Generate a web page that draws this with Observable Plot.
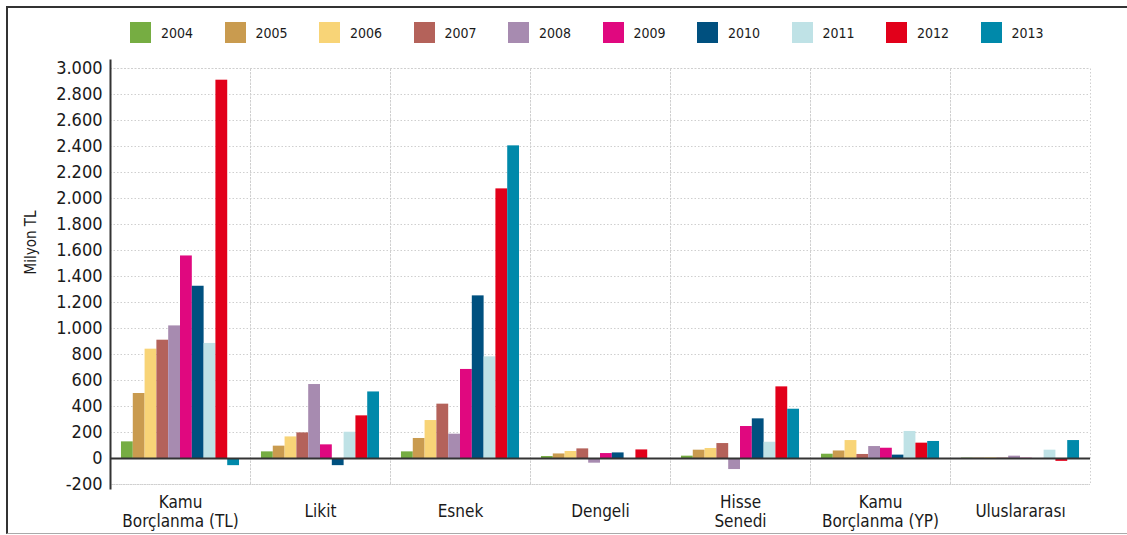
<!DOCTYPE html>
<html>
<head>
<meta charset="utf-8">
<script src="https://cdn.jsdelivr.net/npm/d3@7"></script>
<script src="https://cdn.jsdelivr.net/npm/@observablehq/plot@0.6"></script>
<style>
  body { margin: 0; background: #fff; }
  #wrap { position: relative; width: 1127px; height: 535px; overflow: hidden; background: #fff; }
  #border { position: absolute; left: 6px; top: 6px; width: 1140px; height: 525px;
            border-top: 2px solid #333; border-left: 2px solid #333; border-bottom: 1px solid #aaa; }
  #chart { position: absolute; left: 0; top: 0; }
  #legend { position: absolute; left: 130px; top: 22px; }
  #legend .yl-swatches { margin: 0 !important; min-height: 0 !important; display: flex !important;
            font-family: "DejaVu Sans Condensed", "DejaVu Sans", sans-serif !important;
            font-stretch: condensed; font-size: 14px !important; color: #1a1a1a !important; }
  #legend .yl-swatch { width: 94.5px !important; margin: 0 !important; display: inline-flex !important; align-items: center; }
  #legend .yl-swatch > svg { margin-right: 10px !important; }
</style>
</head>
<body>
<div id="wrap">
  <div id="border"></div>
  <div id="chart"></div>
  <div id="legend"></div>
</div>
<script>
// Fund categories (x groups) and years (bars within a group)
const categories = ["Kamu\nBorçlanma (TL)", "Likit", "Esnek", "Dengeli", "Hisse\nSenedi", "Kamu\nBorçlanma (YP)", "Uluslararası"];
const years = ["2004", "2005", "2006", "2007", "2008", "2009", "2010", "2011", "2012", "2013"];
const yearColors = ["#76ad42", "#c99b4f", "#f8d477", "#b4625a", "#a78bb0", "#e0087f", "#00507f", "#bfe2e6", "#e2001a", "#0089aa"];

// Net values per category, Milyon TL, one entry per year 2004–2013
const kamuTL       = [128, 500, 841, 910, 1020, 1558, 1325, 885, 2910, -55];
const likit        = [51, 95, 166, 197, 569, 105, -55, 202, 328, 512];
const esnek        = [51, 154, 292, 418, 187, 685, 1251, 782, 2074, 2405];
const dengeli      = [15, 35, 54, 74, -36, 38, 43, 0, 66, 0];
const hisseSenedi  = [18, 64, 77, 115, -85, 246, 305, 125, 551, 379];
const kamuYP       = [33, 58, 138, 31, 92, 79, 26, 208, 118, 131];
const uluslararasi = [3, 3, 5, 3, 18, 2, 0, 64, -22, 138];

const yTicks = d3.range(-200, 3001, 200);
const yLabel = "Milyon TL";

const series = [kamuTL, likit, esnek, dengeli, hisseSenedi, kamuYP, uluslararasi];
const rows = categories.flatMap((cat, i) =>
  years.map((year, j) => ({cat, year, value: series[i][j]}))
);

const trFormat = d3.formatLocale({decimal: ",", thousands: ".", grouping: [3], currency: ["", ""], minus: "-"}).format(",");

const font = "'DejaVu Sans Condensed', 'DejaVu Sans', sans-serif";

const chart = Plot.plot({
  width: 1127,
  height: 535,
  marginLeft: 110,
  marginRight: 37,
  marginTop: 68,
  marginBottom: 51,
  style: {fontFamily: font, fontStretch: "condensed", color: "#1a1a1a", background: "transparent", overflow: "visible"},
  fx: {domain: categories, padding: 0, axis: null},
  x: {domain: years, paddingInner: 0, paddingOuter: 0.93, round: false, axis: null},
  y: {domain: [-200, 3000], axis: null},
  color: {domain: years, range: yearColors},
  marks: [
    Plot.gridY(yTicks, {stroke: "#cfcfcf", strokeOpacity: 1, strokeDasharray: "1.5,2"}),
    Plot.frame({stroke: "#cfcfcf", strokeDasharray: "1.5,2"}),
    Plot.barY(rows, {fx: "cat", x: "year", y: "value", fill: "year"}),
    Plot.ruleY([0], {stroke: "#333", strokeWidth: 2}),
    Plot.frame({anchor: "left", fx: categories[0], stroke: "#333", strokeWidth: 2, insetTop: -8, insetBottom: -4}),
    Plot.axisY({ticks: yTicks, tickFormat: trFormat, tickSize: 0, tickPadding: 8, fontSize: 18, label: null, fill: "#1a1a1a"}),
    Plot.text([yLabel], {fx: () => categories[0], text: d => d, frameAnchor: "left", textAnchor: "middle", rotate: -90, dx: -79, dy: -34, fontSize: 15, fill: "#1a1a1a"}),
    Plot.text(categories, {fx: d => d, text: d => d, frameAnchor: "bottom", dy: 26.5, lineAnchor: "middle", lineHeight: 1.12, fontSize: 17, fill: "#1a1a1a"})
  ]
});

document.getElementById("chart").append(chart);

const legend = chart.legend("color", {swatchSize: 21, className: "yl"});
document.getElementById("legend").append(legend);
</script>
</body>
</html>
